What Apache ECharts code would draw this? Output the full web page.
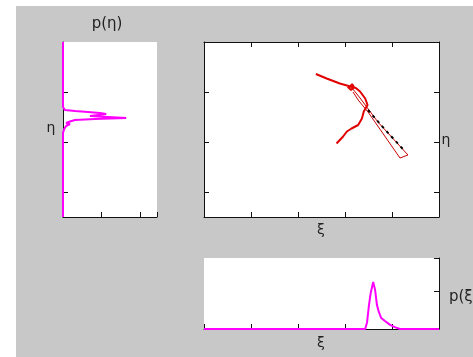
<!DOCTYPE html>
<html>
<head>
<meta charset="utf-8">
<script src="https://cdn.jsdelivr.net/npm/echarts@6/dist/echarts.min.js"></script>
<style>
  html, body { margin: 0; padding: 0; background: #fff; }
  #bg { position: absolute; left: 16px; top: 6px; width: 457px; height: 351px; background: #c8c8c8; }
  #main { position: absolute; left: 0; top: 0; width: 473px; height: 357px; }
</style>
</head>
<body>
<div id="bg"></div>
<div id="main"></div>
<script>
// trajectory in the (xi, eta) plane
const trajXi  = [2.38, 2.61, 2.89, 3.04, 3.11, 3.15, 3.19, 3.13, 3.06, 3.11, 3.23, 3.32, 3.43, 3.48, 3.40, 3.36, 3.28, 3.14, 3.04, 2.96, 2.82];
const trajEta = [2.36, 2.27, 2.17, 2.13, 2.11, 2.16, 2.10, 2.04, 2.10, 2.11, 2.08, 2.01, 1.87, 1.74, 1.61, 1.47, 1.34, 1.27, 1.21, 1.11, 0.97];
// thin outline going down-right
const thinXi  = [3.15, 3.32, 3.70, 4.34, 4.17, 3.49, 3.28, 3.17];
const thinEta = [2.08, 1.88, 1.40, 0.74, 0.68, 1.60, 1.84, 2.00];
// black dashes along the thin outline
const dashXi  = [3.49, 3.85, 4.28];
const dashEta = [1.64, 1.25, 0.81];
// marginal p(eta)
const pEta    = [0, 0, 0.05, 0.31, 0.65, 0.96, 1.12, 1.14, 0.70, 1.64, 0.83, 0.31, 0.18, 0.08, 0.18, 0.08, 0.03, 0, 0];
const etaVals = [3.0, 1.70, 1.64, 1.62, 1.60, 1.58, 1.56, 1.53, 1.52, 1.48, 1.46, 1.44, 1.41, 1.38, 1.36, 1.32, 1.26, 1.18, -0.5];
// marginal p(xi)
const xiVals  = [0, 3.43, 3.47, 3.51, 3.55, 3.60, 3.64, 3.68, 3.72, 3.77, 3.85, 3.96, 4.06, 4.17, 5];
const pXi     = [0, 0, 0.18, 0.63, 0.97, 1.24, 1.03, 0.63, 0.45, 0.29, 0.21, 0.11, 0.05, 0, 0];
// tick positions
const etaTicks = [0, 1, 2];

const zip = (a, b) => a.map((v, i) => [v, b[i]]);
const black = '#111';
const axLine = (show) => ({ show: show, onZero: false, lineStyle: { color: black, width: 1 } });
const tick = { show: true, inside: true, length: 5, lineStyle: { color: black } };
const noLab = { show: false };
const noSplit = { show: false };

function xiAxis(grid, pos) {
  return {
    type: 'value', gridIndex: grid, position: pos, min: 0, max: 5, interval: 1,
    axisLine: axLine(true), axisTick: tick, axisLabel: noLab, splitLine: noSplit
  };
}
function etaAxis(grid, pos) {
  return {
    type: 'value', gridIndex: grid, position: pos, min: -0.5, max: 3,
    axisLine: axLine(true),
    axisTick: Object.assign({}, tick, { customValues: etaTicks }),
    axisLabel: { show: false, customValues: etaTicks }, splitLine: noSplit
  };
}

const chart = echarts.init(document.getElementById('main'), null, { renderer: 'canvas' });
const txt = { fontFamily: 'DejaVu Sans', fontSize: 14, fill: '#222', textAlign: 'center', textVerticalAlign: 'middle' };

chart.setOption({
  backgroundColor: 'transparent',
  animation: false,
  grid: [
    { left: 204, top: 42, width: 235, height: 175, show: true, backgroundColor: '#fff', borderWidth: 0 },
    { left: 63, top: 42, width: 94, height: 175, show: true, backgroundColor: '#fff', borderWidth: 0 },
    { left: 204, top: 258, width: 235, height: 71, show: true, backgroundColor: '#fff', borderWidth: 0 }
  ],
  xAxis: [
    xiAxis(0, 'bottom'),
    xiAxis(0, 'top'),
    {
      type: 'value', gridIndex: 1, position: 'bottom', min: 0, max: 2.44, interval: 1,
      axisLine: axLine(true), axisTick: tick, axisLabel: noLab, splitLine: noSplit
    },
    xiAxis(2, 'bottom')
  ],
  yAxis: [
    etaAxis(0, 'right'),
    etaAxis(0, 'left'),
    etaAxis(1, 'left'),
    {
      type: 'value', gridIndex: 2, position: 'right', min: 0, max: 1.87, interval: 1,
      axisLine: axLine(true), axisTick: tick, axisLabel: noLab, splitLine: noSplit
    }
  ],
  series: [
    {
      type: 'line', xAxisIndex: 0, yAxisIndex: 0, data: zip(thinXi, thinEta), showSymbol: false,
      lineStyle: { color: '#c80000', width: 1 }
    },
    {
      type: 'line', xAxisIndex: 0, yAxisIndex: 0, data: zip(dashXi, dashEta), showSymbol: false,
      lineStyle: { color: '#000', width: 2, type: [3, 4] }
    },
    {
      type: 'line', xAxisIndex: 0, yAxisIndex: 0, data: zip(trajXi, trajEta), showSymbol: false,
      lineStyle: { color: '#e00000', width: 2 }
    },
    {
      type: 'line', xAxisIndex: 2, yAxisIndex: 2, data: zip(pEta, etaVals), showSymbol: false,
      lineStyle: { color: '#ff00ff', width: 2 }
    },
    {
      type: 'line', xAxisIndex: 3, yAxisIndex: 3, data: zip(xiVals, pXi), showSymbol: false,
      lineStyle: { color: '#ff00ff', width: 2 }
    }
  ],
  graphic: [
    { type: 'text', x: 107, y: 24, style: Object.assign({}, txt, { text: 'p(η)', fontSize: 15 }) },
    { type: 'text', x: 51, y: 128, style: Object.assign({}, txt, { text: 'η' }) },
    { type: 'text', x: 321, y: 230, style: Object.assign({}, txt, { text: 'ξ' }) },
    { type: 'text', x: 446, y: 140, style: Object.assign({}, txt, { text: 'η' }) },
    { type: 'text', x: 449, y: 297, style: Object.assign({}, txt, { text: 'p(ξ)', fontSize: 15, textAlign: 'left' }) },
    { type: 'text', x: 321, y: 343, style: Object.assign({}, txt, { text: 'ξ' }) }
  ]
});
</script>
</body>
</html>
